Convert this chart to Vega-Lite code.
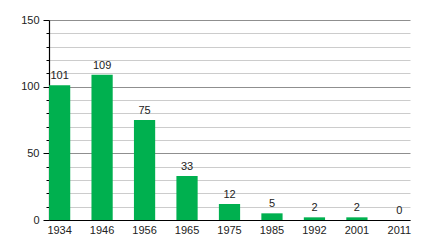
{
  "$schema": "https://vega.github.io/schema/vega-lite/v6.json",
  "autosize": {"type": "none"},
  "width": 361,
  "height": 200,
  "padding": {"left": 49, "top": 20, "right": 30, "bottom": 20},
  "background": "white",
  "config": {
    "view": {"stroke": null},
    "font": "Liberation Sans",
    "axis": {"labelFont": "Liberation Sans", "labelFontSize": 11, "labelColor": "#222"}
  },
  "data": {
    "values": [
      {"year": "1934", "value": 101},
      {"year": "1946", "value": 109},
      {"year": "1956", "value": 75},
      {"year": "1965", "value": 33},
      {"year": "1975", "value": 12},
      {"year": "1985", "value": 5},
      {"year": "1992", "value": 2},
      {"year": "2001", "value": 2},
      {"year": "2011", "value": 0}
    ]
  },
  "encoding": {
    "x": {
      "field": "year",
      "type": "ordinal",
      "sort": null,
      "scale": {"paddingInner": 0.5, "paddingOuter": 0},
      "axis": {
        "title": null,
        "labelAngle": 0,
        "ticks": false,
        "labelPadding": 4,
        "domainColor": "#000",
        "domainWidth": 1.2
      }
    },
    "y": {
      "field": "value",
      "type": "quantitative",
      "scale": {"domain": [0, 150], "nice": false},
      "axis": {
        "title": null,
        "values": [0, 10, 20, 30, 40, 50, 60, 70, 80, 90, 100, 110, 120, 130, 140, 150],
        "labelExpr": "datum.value % 50 === 0 ? datum.label : ''",
        "grid": true,
        "gridColor": {"condition": {"test": "datum.value % 50 === 0", "value": "#8f8f8f"}, "value": "#cccccc"},
        "tickSize": {"condition": {"test": "datum.value % 50 === 0", "value": 6}, "value": 3},
        "tickColor": "#000",
        "domainColor": "#000",
        "domainWidth": 1.2,
        "labelPadding": 4
      }
    }
  },
  "layer": [
    {"mark": {"type": "bar", "color": "#00b04f"}},
    {
      "mark": {"type": "text", "baseline": "bottom", "dy": -4, "fontSize": 11, "color": "#222"},
      "encoding": {"text": {"field": "value", "type": "quantitative"}}
    }
  ]
}
